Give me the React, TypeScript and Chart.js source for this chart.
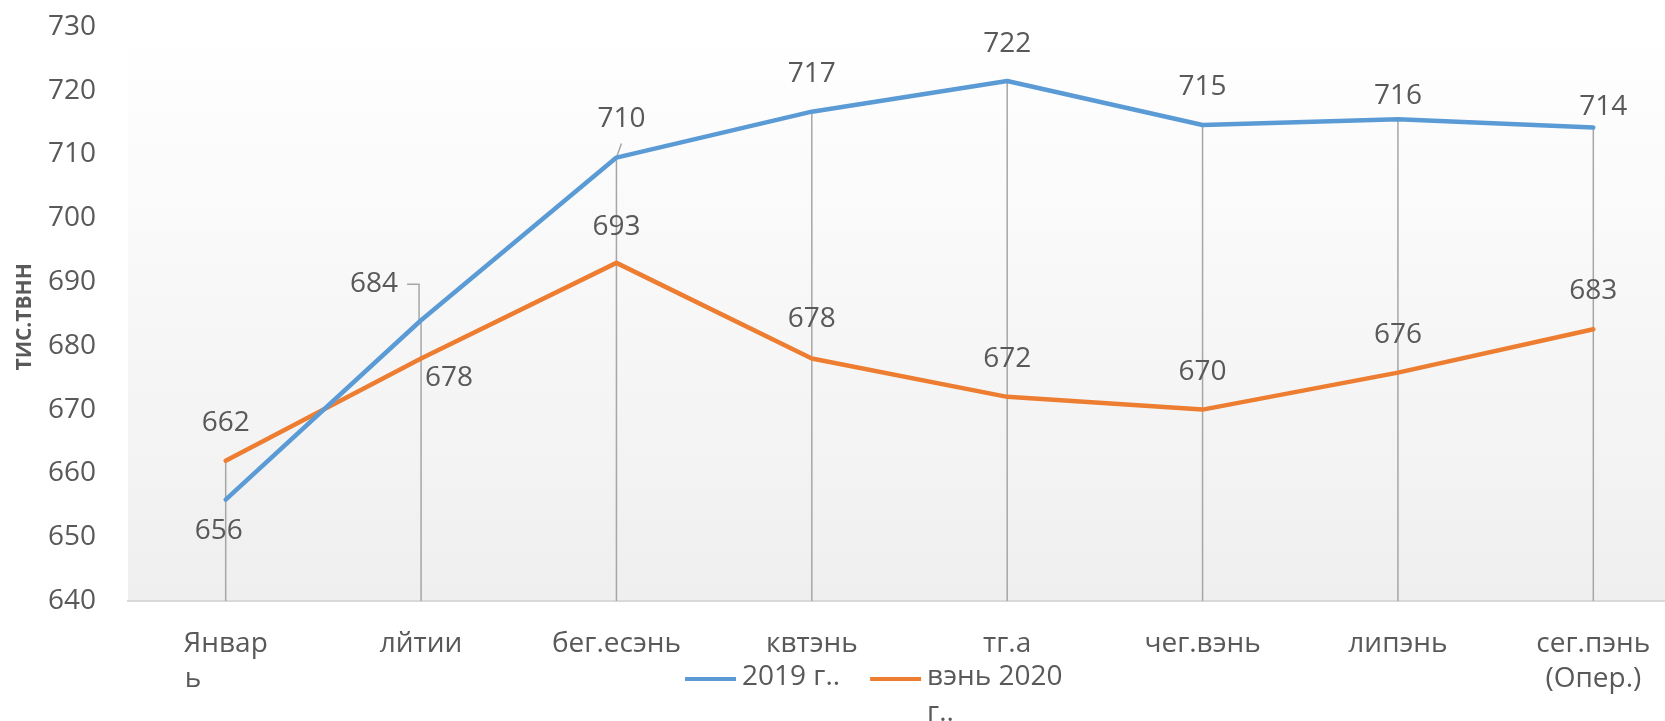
import React, { useEffect, useRef } from "react";
import { Chart, registerables } from "chart.js";

Chart.register(...registerables);

// ---- data ----
const categories: (string | string[])[] = [
  ["Январ", "ь\u00a0\u00a0\u00a0\u00a0\u00a0\u00a0\u00a0\u00a0\u00a0"],
  "лйтии",
  "бег.есэнь",
  "квтэнь",
  "тг.а",
  "чег.вэнь",
  "липэнь",
  ["сег.пэнь", "(Опер.)"],
];
const seriesNames = ["2019 г..", "вэнь 2020 г.."];
const values2019 = [655.9, 684.0, 709.5, 716.7, 721.5, 714.6, 715.5, 714.2];
const values2020 = [662.0, 678.0, 693.0, 678.0, 672.0, 670.0, 675.8, 682.6];
const yTickValues = [640, 650, 660, 670, 680, 690, 700, 710, 720, 730];
const axisTitle = "ТИС.ТВНН";

// ---- styles ----
const BLUE = "#5b9bd5";
const ORANGE = "#ed7d31";
const TEXT = "#595959";
const FONT_FAMILY = "'Open Sans', sans-serif";
// label offsets in px (dx, dy) relative to each point
const labelOffsets = [
  [[-7, 31], [-47, -36], [5, -39], [0, -38], [0, -37], [0, -38], [0, -23], [10, -21]],
  [[0, -38], [28, 19], [0, -36], [0, -40], [0, -38], [0, -38], [0, -38], [0, -38]],
];

const bgPlugin = {
  id: "bgGradient",
  beforeDraw(chart: any) {
    const { ctx, chartArea } = chart;
    const g = ctx.createLinearGradient(0, chartArea.top, 0, chartArea.bottom);
    g.addColorStop(0, "#ffffff");
    g.addColorStop(1, "#efefef");
    ctx.save();
    ctx.fillStyle = g;
    ctx.fillRect(chartArea.left, chartArea.top, chartArea.right - chartArea.left, chartArea.bottom - chartArea.top);
    ctx.restore();
  },
};

const dropPlugin = {
  id: "dropLines",
  beforeDatasetsDraw(chart: any) {
    const { ctx, chartArea } = chart;
    const m0 = chart.getDatasetMeta(0).data;
    const m1 = chart.getDatasetMeta(1).data;
    ctx.save();
    ctx.strokeStyle = "#a6a6a6";
    ctx.lineWidth = 1.5;
    for (let i = 0; i < m0.length; i++) {
      const top = Math.min(m0[i].y, m1[i].y);
      ctx.beginPath();
      ctx.moveTo(m0[i].x, top);
      ctx.lineTo(m0[i].x, chartArea.bottom);
      ctx.stroke();
    }
    // leader lines
    const p1 = m0[1];
    const l1x = p1.x + labelOffsets[0][1][0];
    const l1y = p1.y + labelOffsets[0][1][1];
    ctx.beginPath();
    ctx.moveTo(l1x + 33, l1y);
    ctx.lineTo(p1.x - 2, l1y);
    ctx.lineTo(p1.x - 2, p1.y);
    ctx.stroke();
    const p2 = m0[2];
    ctx.beginPath();
    ctx.moveTo(p2.x, p2.y);
    ctx.lineTo(p2.x + 5, p2.y - 14);
    ctx.stroke();
    ctx.restore();
  },
};

const labelPlugin = {
  id: "dataLabels",
  afterDatasetsDraw(chart: any) {
    const { ctx } = chart;
    ctx.save();
    ctx.font = `28px ${FONT_FAMILY}`;
    ctx.fillStyle = TEXT;
    ctx.textAlign = "center";
    ctx.textBaseline = "middle";
    chart.data.datasets.forEach((ds: any, di: number) => {
      const meta = chart.getDatasetMeta(di);
      meta.data.forEach((pt: any, i: number) => {
        const [dx, dy] = labelOffsets[di][i];
        ctx.fillText(String(Math.round(ds.data[i])), pt.x + dx, pt.y + dy);
      });
    });
    ctx.restore();
  },
};

const legendPlugin = {
  id: "customLegend",
  afterDraw(chart: any) {
    const { ctx, chartArea } = chart;
    ctx.save();
    ctx.font = `28px ${FONT_FAMILY}`;
    ctx.fillStyle = TEXT;
    ctx.textAlign = "left";
    ctx.textBaseline = "middle";
    const colors = [BLUE, ORANGE];
    let x = 685;
    const y = chartArea.bottom + 78;
    const maxW = 140;
    seriesNames.forEach((name, i) => {
      ctx.strokeStyle = colors[i];
      ctx.lineWidth = 4;
      ctx.beginPath();
      ctx.moveTo(x, y);
      ctx.lineTo(x + 51, y);
      ctx.stroke();
      const tx = x + 57;
      // wrap words
      const words = name.split(" ");
      const lines: string[] = [];
      let cur = "";
      words.forEach((w) => {
        const test = cur ? cur + " " + w : w;
        if (ctx.measureText(test).width > maxW && cur) {
          lines.push(cur);
          cur = w;
        } else cur = test;
      });
      if (cur) lines.push(cur);
      let wmax = 0;
      lines.forEach((ln, li) => {
        ctx.fillText(ln, tx, y - 2 + li * 36);
        wmax = Math.max(wmax, ctx.measureText(ln).width);
      });
      x = tx + wmax + 30;
    });
    ctx.restore();
  },
};

const titlePlugin = {
  id: "axisTitle",
  afterDraw(chart: any) {
    const { ctx, chartArea } = chart;
    ctx.save();
    ctx.translate(25, (chartArea.top + chartArea.bottom) / 2 + 3);
    ctx.rotate(-Math.PI / 2);
    ctx.font = `bold 21px ${FONT_FAMILY}`;
    ctx.fillStyle = TEXT;
    ctx.textAlign = "center";
    ctx.textBaseline = "middle";
    ctx.fillText(axisTitle, 0, 0);
    ctx.restore();
  },
};

export default function App() {
  const ref = useRef<HTMLCanvasElement>(null);
  useEffect(() => {
    const canvas = ref.current;
    if (!canvas) return;
    const font = { family: FONT_FAMILY, size: 28, lineHeight: 1.25 };
    const chart = new Chart(canvas, {
      type: "line",
      data: {
        labels: categories as any,
        datasets: [
          {
            label: seriesNames[0],
            data: values2019,
            borderColor: BLUE,
            backgroundColor: BLUE,
            borderWidth: 4.5,
            pointRadius: 0,
            tension: 0,
            borderJoinStyle: "round",
            borderCapStyle: "round",
          },
          {
            label: seriesNames[1],
            data: values2020,
            borderColor: ORANGE,
            backgroundColor: ORANGE,
            borderWidth: 4.5,
            pointRadius: 0,
            tension: 0,
            borderJoinStyle: "round",
            borderCapStyle: "round",
          },
        ],
      },
      options: {
        animation: false,
        responsive: true,
        maintainAspectRatio: false,
        layout: { padding: { top: 0, right: 0, left: 0, bottom: 0 } },
        plugins: { legend: { display: false }, tooltip: { enabled: false } },
        scales: {
          x: {
            offset: true,
            grid: { display: false },
            border: { display: true, color: "#d9d9d9", width: 2 },
            ticks: { font, color: TEXT, padding: 18, maxRotation: 0, autoSkip: false },
            afterFit: (s: any) => {
              s.height = 120;
            },
          },
          y: {
            min: 640,
            max: 730,
            afterBuildTicks: (s: any) => {
              s.ticks = yTickValues.map((v) => ({ value: v }));
            },
            ticks: { font: { family: FONT_FAMILY, size: 28 }, color: TEXT, padding: 24 },
            grid: { display: false },
            border: { display: false },
            afterFit: (s: any) => {
              s.width = 128;
            },
          },
        },
      },
      plugins: [bgPlugin, dropPlugin, labelPlugin, legendPlugin, titlePlugin],
    });
    return () => chart.destroy();
  }, []);
  return (
    <div
      style={{
        position: "fixed",
        left: 0,
        top: 0,
        width: 1665,
        height: 721,
        overflow: "hidden",
        background: "#ffffff",
      }}
    >
      <div style={{ position: "absolute", left: 0, top: -14, width: 1691, height: 735 }}>
        <canvas ref={ref} />
      </div>
    </div>
  );
}
